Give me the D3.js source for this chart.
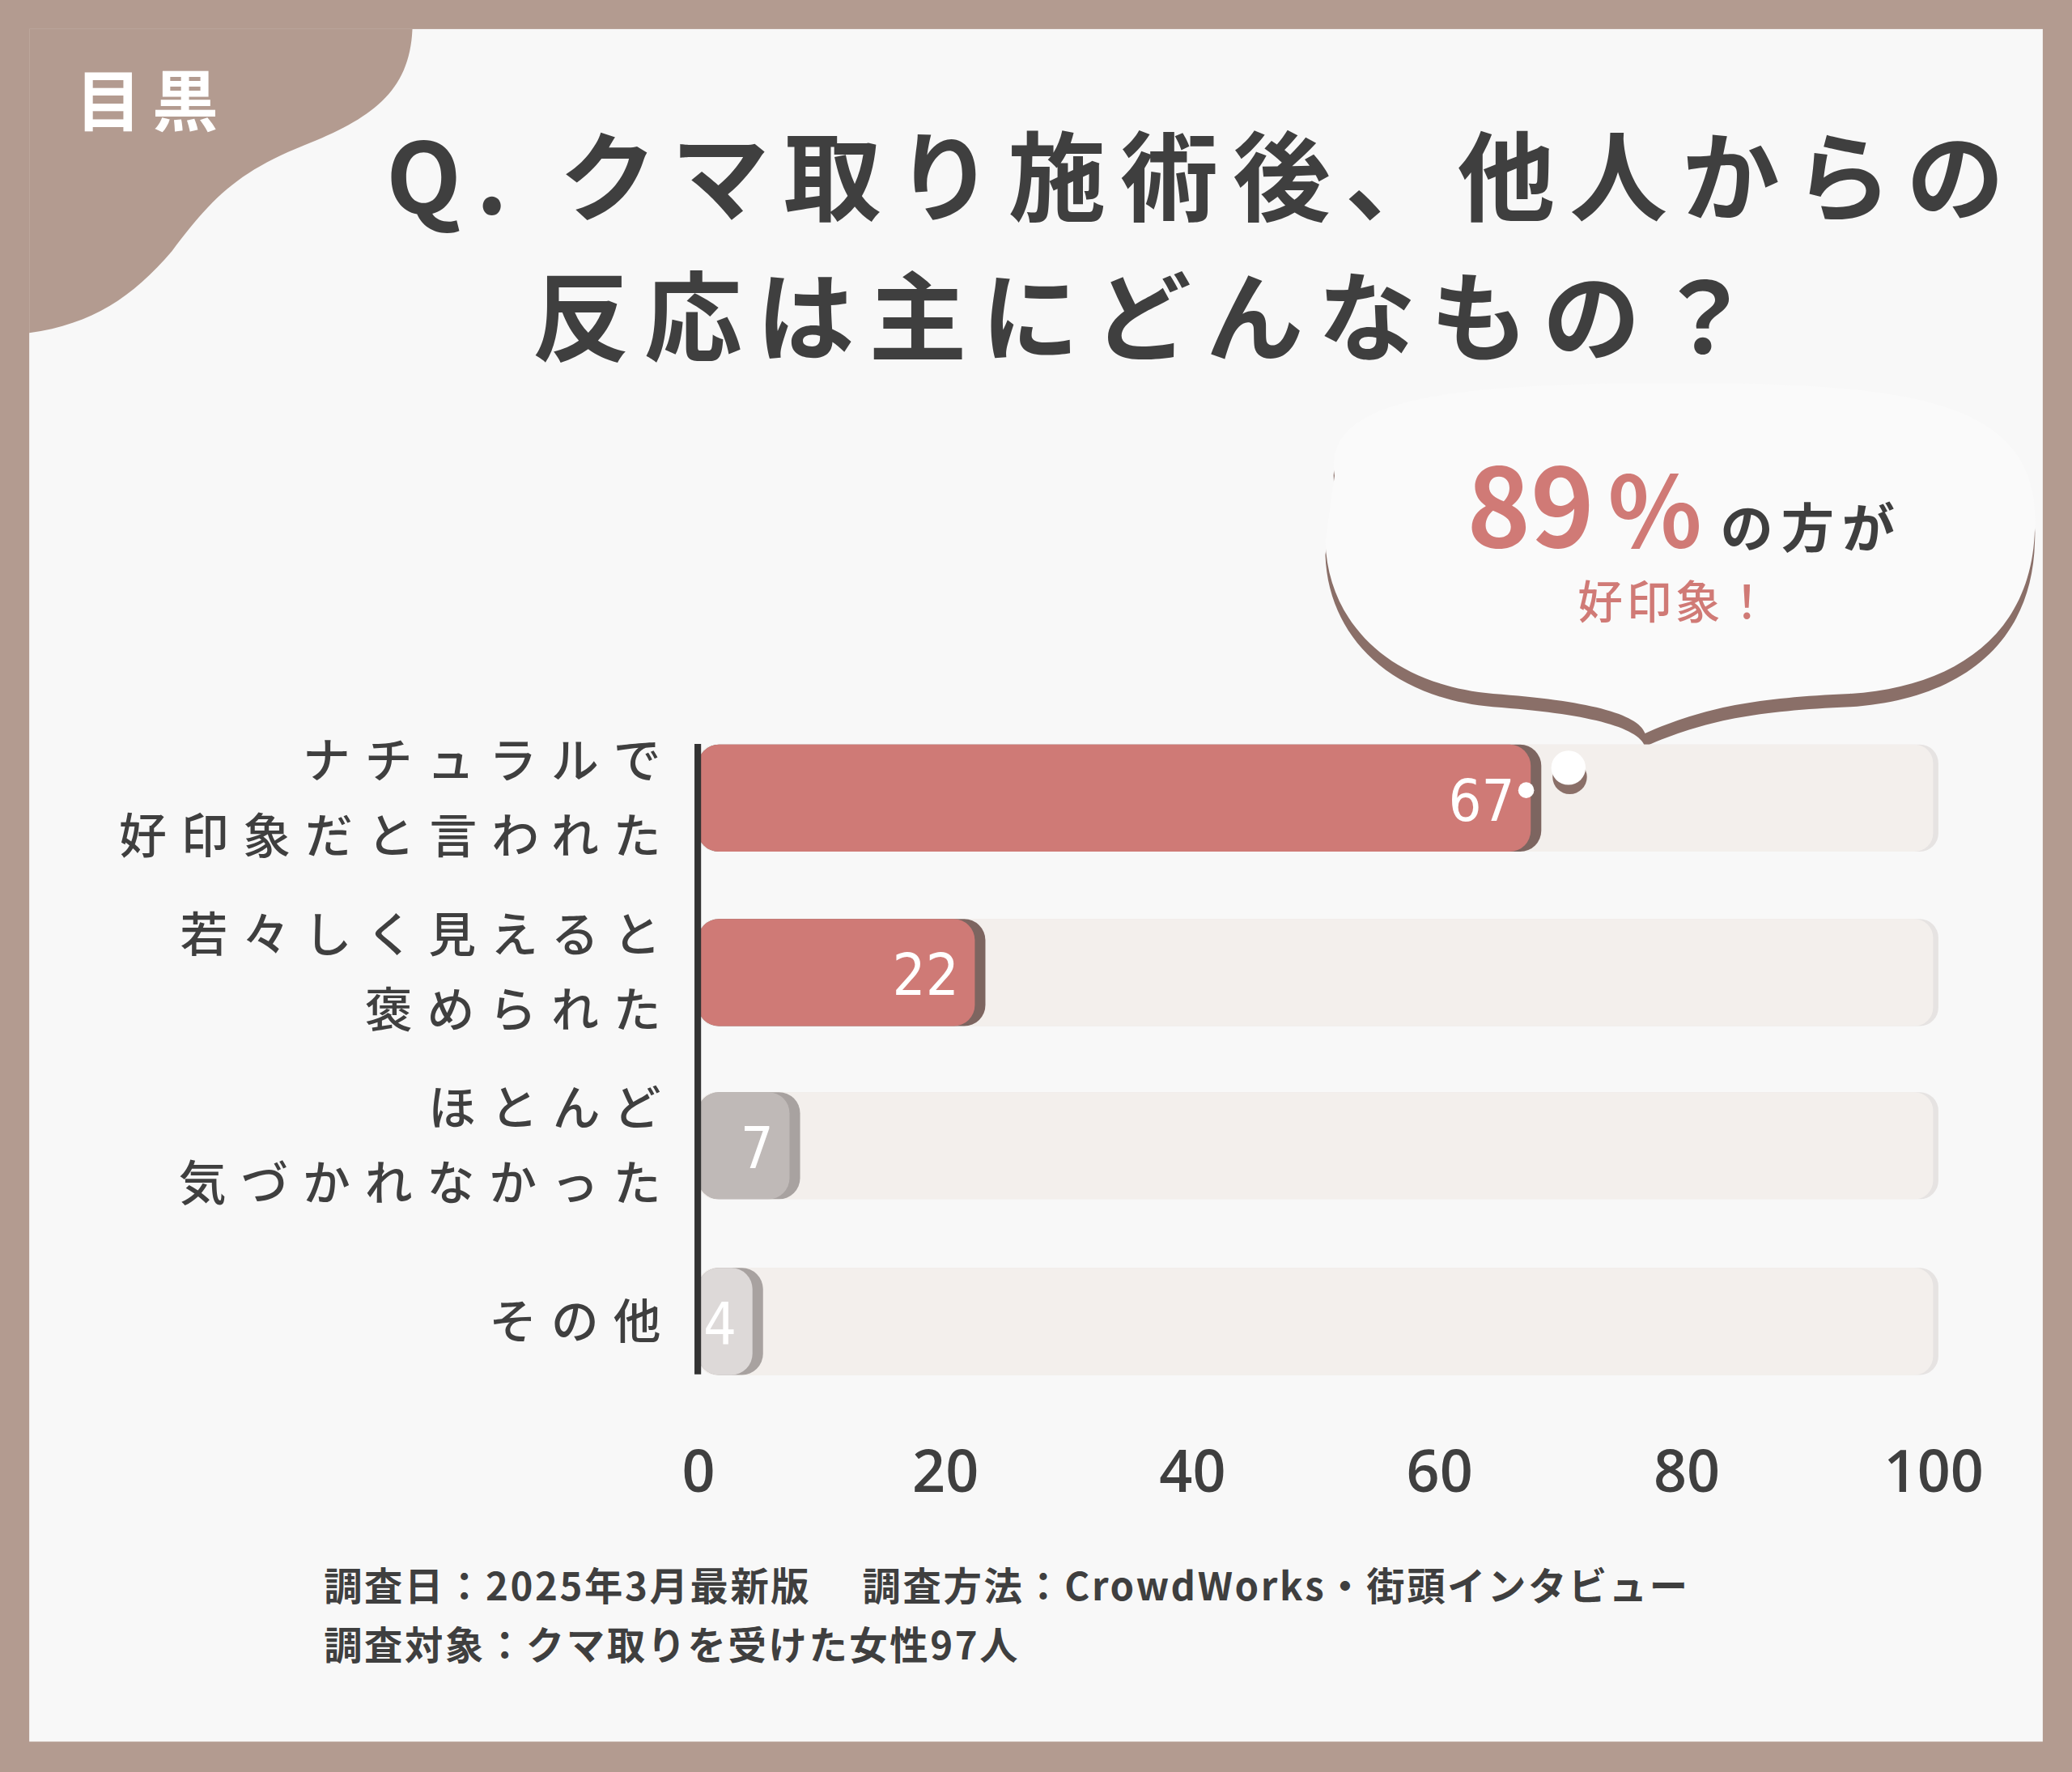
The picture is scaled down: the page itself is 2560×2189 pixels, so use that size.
<!DOCTYPE html>
<html><head><meta charset="utf-8">
<script src="https://cdn.jsdelivr.net/npm/d3@7"></script>
<style>body{margin:0;background:#b39b90}svg{display:block}</style>
</head><body>
<svg width="2560" height="2189" viewBox="0 0 1568 1341"></svg>
<script>
const categories = [["ナチュラルで", "好印象だと言われた"], ["若々しく見えると", "褒められた"], ["ほとんど", "気づかれなかった"], ["その他"]];
const values = [67, 22, 7, 4];
const barColors = ["#cf7a76", "#cf7a76", "#bfb9b7", "#ddd9d8"];
const ticks = [0, 20, 40, 60, 80, 100];
const titleLines = ["Q. クマ取り施術後、他人からの", "反応は主にどんなもの？"];
const notes = ["調査日：2025年3月最新版　 調査方法：CrowdWorks・街頭インタビュー", "調査対象：クマ取りを受けた女性97人"];

const svg = d3.select("svg");
const font = "'Noto Sans CJK JP', sans-serif";
const dark = "#3f3f3f";

svg.append("rect").attr("x", 22).attr("y", 22).attr("width", 1524).attr("height", 1296).attr("fill", "#f8f8f8");
svg.append("path").attr("d", "M22,22 L312,22 C310,70 280,90 230,110 C180,130 160,150 130,190 C100,225 70,245 22,252 Z").attr("fill", "#b39b90");
svg.append("text").attr("x", 115).attr("y", 95).attr("text-anchor", "middle").attr("font-family", font).attr("font-weight", 700)
  .attr("font-size", 50).attr("fill", "#fff").attr("letter-spacing", 8).text("目黒");

svg.selectAll(".title").data(titleLines).join("text")
  .attr("x", (d, i) => i ? 870 : 910).attr("y", (d, i) => 162 + i * 106).attr("text-anchor", "middle")
  .attr("font-family", font).attr("font-weight", 700).attr("font-size", 74).attr("letter-spacing", 11)
  .attr("fill", dark).text(d => d);

// speech bubble
const bub = "M1010,360 C1000,300 1100,290 1270,290 C1440,290 1545,300 1540,400 C1538,480 1480,520 1400,525 C1330,528 1290,535 1245,555 C1240,540 1200,530 1130,525 C1050,518 1005,470 1003,410 Z";
svg.append("path").attr("d", bub).attr("fill", "#8a6f68").attr("transform", "translate(0,10)");
svg.append("path").attr("d", bub).attr("fill", "#fafafa");
const t1 = svg.append("text").attr("x", 1110).attr("y", 414).attr("font-family", font).attr("font-weight", 700);
t1.append("tspan").attr("font-size", 82).attr("fill", "#d07a76").text("89");
t1.append("tspan").attr("font-size", 74).attr("fill", "#d07a76").attr("dx", 10).text("%");
t1.append("tspan").attr("font-size", 40).attr("fill", dark).attr("dx", 14).attr("letter-spacing", 6).text("の方が");
svg.append("text").attr("x", 1268).attr("y", 468).attr("text-anchor", "middle").attr("font-family", font).attr("font-weight", 500)
  .attr("font-size", 34).attr("fill", "#d07a76").attr("letter-spacing", 3).text("好印象！");

const x = d3.scaleLinear().domain([0, 100]).range([528, 1463]);
const bh = 81;
const yc = i => [604, 736, 867, 1000][i];

const g = svg.append("g");
g.selectAll(".track").data(values).join("rect")
  .attr("x", x(0)).attr("y", (d, i) => yc(i) - bh / 2).attr("width", x(100) - x(0) + 4).attr("height", bh)
  .attr("rx", 14).attr("fill", "#e6e3e2");
g.selectAll(".track2").data(values).join("rect")
  .attr("x", x(0)).attr("y", (d, i) => yc(i) - bh / 2).attr("width", x(100) - x(0)).attr("height", bh)
  .attr("rx", 14).attr("fill", "#f3efec");
g.selectAll(".shadow").data(values).join("rect")
  .attr("x", x(0)).attr("y", (d, i) => yc(i) - bh / 2).attr("width", d => x(d) - x(0) + 12).attr("height", bh)
  .attr("rx", 16).attr("fill", (d, i) => i < 2 ? "#7d6560" : "#a8a2a0");
g.selectAll(".bar").data(values).join("rect")
  .attr("x", x(0)).attr("y", (d, i) => yc(i) - bh / 2).attr("width", d => x(d) - x(0) + 4).attr("height", bh)
  .attr("rx", 16).attr("fill", (d, i) => barColors[i]);
g.selectAll(".val").data(values).join("text")
  .attr("x", d => x(d) - 8).attr("y", (d, i) => yc(i) + 17).attr("text-anchor", "end")
  .attr("font-family", "'DejaVu Sans Condensed', 'Liberation Sans Narrow', sans-serif").attr("font-stretch", "condensed")
  .attr("font-size", 44).attr("fill", "#fff").text(d => d);
svg.append("circle").attr("cx", 1155).attr("cy", 598).attr("r", 6).attr("fill", "#fff");
svg.append("circle").attr("cx", 1188).attr("cy", 588).attr("r", 13).attr("fill", "#8a6f68");
svg.append("circle").attr("cx", 1187).attr("cy", 581).attr("r", 13).attr("fill", "#fff");

svg.append("line").attr("x1", 528).attr("x2", 528).attr("y1", 563).attr("y2", 1040).attr("stroke", "#333").attr("stroke-width", 5);

categories.forEach((lines, i) => {
  const n = lines.length;
  svg.append("g").selectAll("text").data(lines).join("text")
    .attr("x", 511).attr("y", (d, j) => yc(i) + 13 + (j - (n - 1) / 2) * 57)
    .attr("text-anchor", "end").attr("font-family", font).attr("font-weight", 500).attr("font-size", 36)
    .attr("letter-spacing", 11).attr("fill", dark).text(d => d);
});

const ax = svg.append("g").attr("transform", "translate(0,1117)").call(d3.axisBottom(x).tickValues(ticks).tickSize(0));
ax.select(".domain").remove();
ax.selectAll("text").attr("font-family", "'Open Sans', sans-serif").attr("font-weight", 600).attr("font-size", 44)
  .attr("fill", dark).attr("dy", "0.2em");

svg.selectAll(".note").data(notes).join("text")
  .attr("x", 245).attr("y", (d, i) => 1211 + i * 45).attr("font-family", font).attr("font-weight", 700)
  .attr("font-size", 29).attr("letter-spacing", 1.6).attr("fill", dark).text(d => d);
</script>
</body></html>
